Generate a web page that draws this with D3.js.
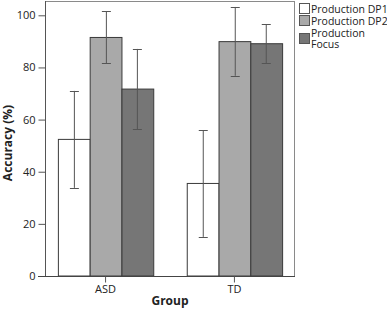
<!DOCTYPE html>
<html>
<head>
<meta charset="utf-8">
<script src="https://cdn.jsdelivr.net/npm/d3@7"></script>
<style>
  body { margin: 0; background: #fff; }
  text { font-family: "Open Sans", "Noto Sans", sans-serif; }
</style>
</head>
<body>
<div id="chart"></div>
<script>
var width = 387;
var height = 311;
var margin = {top: 1, left: 45, right: 92, bottom: 35};

// data
var groups = ['ASD', 'TD'];
var series = ['Production DP1', 'Production DP2', 'Production Focus'];
var means = [[52.4, 91.5, 71.7], [35.5, 89.9, 89.1]];
var errLow = [[33.8, 81.7, 56.3], [15.0, 76.8, 81.6]];
var errHigh = [[71.0, 101.6, 87.1], [56.0, 103.2, 96.5]];
var yTicks = [0, 20, 40, 60, 80, 100];

var fills = ['#ffffff', '#a9a9a9', '#767676'];

var svg = d3.select('#chart').append('svg')
    .attr('width', width)
    .attr('height', height);

var plotL = margin.left, plotR = width - margin.right,
    plotT = margin.top, plotB = height - margin.bottom;

var x0 = d3.scaleBand()
    .domain(groups)
    .range([plotL, plotR])
    .paddingInner(0.26)
    .paddingOuter(0.1);

var x1 = d3.scaleBand()
    .domain(series)
    .range([0, x0.bandwidth()]);

var y = d3.scaleLinear()
    .domain([0, 100])
    .range([plotB, 15.3]);

// frame
svg.append('rect')
    .attr('x', plotL + 0.5).attr('y', plotT + 0.5)
    .attr('width', plotR - plotL - 1).attr('height', plotB - plotT)
    .attr('fill', 'none').attr('stroke', '#8a8a8a');

// bars
var g = svg.selectAll('g.grp')
    .data(groups)
    .enter().append('g')
    .attr('class', 'grp')
    .attr('transform', function(d) { return 'translate(' + x0(d) + ',0)'; });

g.selectAll('rect')
    .data(function(d, gi) { return series.map(function(s, si) { return {s: s, si: si, v: means[gi][si]}; }); })
    .enter().append('rect')
    .attr('x', function(d) { return x1(d.s) + 0.5; })
    .attr('y', function(d) { return y(d.v); })
    .attr('width', x1.bandwidth())
    .attr('height', function(d) { return y(0) - y(d.v); })
    .attr('fill', function(d) { return fills[d.si]; })
    .attr('stroke', '#3a3a3a')
    .attr('stroke-width', 1);

// error bars
var eb = g.selectAll('g.err')
    .data(function(d, gi) { return series.map(function(s, si) { return {s: s, lo: errLow[gi][si], hi: errHigh[gi][si]}; }); })
    .enter().append('g')
    .attr('class', 'err')
    .attr('stroke', '#555')
    .attr('stroke-width', 1);

function cx(d) { return Math.round(x1(d.s) + x1.bandwidth() / 2); }

eb.append('line')
    .attr('x1', function(d) { return cx(d) + 0.5; })
    .attr('x2', function(d) { return cx(d) + 0.5; })
    .attr('y1', function(d) { return y(d.lo); })
    .attr('y2', function(d) { return y(d.hi); });

['lo', 'hi'].forEach(function(k) {
  eb.append('line')
      .attr('x1', function(d) { return cx(d) - 4; })
      .attr('x2', function(d) { return cx(d) + 5; })
      .attr('y1', function(d) { return Math.round(y(d[k])) + 0.5; })
      .attr('y2', function(d) { return Math.round(y(d[k])) + 0.5; });
});

// y axis
var yAxis = svg.append('g')
    .attr('transform', 'translate(' + (plotL + 0.5) + ',0)')
    .call(d3.axisLeft(y).tickValues(yTicks).tickSize(7).tickPadding(3));
yAxis.select('.domain').attr('stroke', '#555').attr('d', 'M0,' + plotT + 'V' + plotB);
yAxis.selectAll('.tick line').attr('stroke', '#555');
yAxis.selectAll('text').attr('font-size', 11).attr('fill', '#222')
    .style('font-family', '"Open Sans", sans-serif');

// x axis
var xAxis = svg.append('g')
    .attr('transform', 'translate(0,' + (plotB + 0.5) + ')')
    .call(d3.axisBottom(x0).tickSize(6).tickPadding(3));
xAxis.select('.domain').attr('stroke', '#444').attr('d', 'M' + (plotL - 7) + ',0H' + plotR);
xAxis.selectAll('.tick line').attr('stroke', '#555');
xAxis.selectAll('text').attr('font-size', 11).attr('fill', '#222')
    .style('font-family', '"Open Sans", sans-serif');

// axis titles
svg.append('text')
    .attr('x', (plotL + plotR) / 2)
    .attr('y', 305)
    .attr('text-anchor', 'middle')
    .attr('font-size', 12)
    .attr('font-weight', 'bold')
    .attr('fill', '#222')
    .text('Group');

svg.append('text')
    .attr('transform', 'translate(12,143) rotate(-90)')
    .attr('text-anchor', 'middle')
    .attr('font-size', 12)
    .attr('font-weight', 'bold')
    .attr('fill', '#222')
    .text('Accuracy (%)');

// legend
var legendRows = [
  {lines: ['Production DP1'], box: 3, base: 12.5},
  {lines: ['Production DP2'], box: 15, base: 24.5},
  {lines: ['Production', 'Focus'], box: 33, base: 37}
];

var legend = svg.append('g')
    .selectAll('g')
    .data(legendRows)
    .enter().append('g');

legend.append('rect')
    .attr('x', 299.5)
    .attr('y', function(d) { return d.box + 0.5; })
    .attr('width', 10)
    .attr('height', 10)
    .attr('fill', function(d, i) { return fills[i]; })
    .attr('stroke', '#555');

legend.append('text')
    .attr('x', 311)
    .attr('y', function(d) { return d.base; })
    .attr('font-size', 10.5)
    .attr('fill', '#222')
    .selectAll('tspan')
    .data(function(d) { return d.lines; })
    .enter().append('tspan')
    .attr('x', 311)
    .attr('dy', function(d, i) { return i === 0 ? 0 : 11; })
    .text(function(d) { return d; });
</script>
</body>
</html>
